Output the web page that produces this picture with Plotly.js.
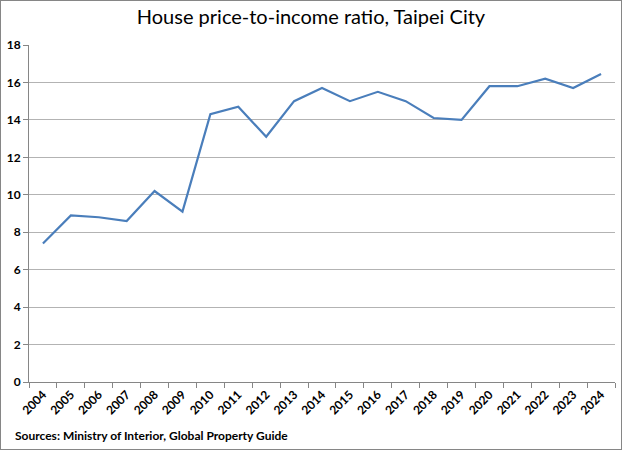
<!DOCTYPE html>
<html>
<head>
<meta charset="utf-8">
<script src="https://cdn.plot.ly/plotly-3.0.1.min.js"></script>
<style>
  body { margin: 0; background: #fff; }
  #chart { position: absolute; left: 0; top: 0; width: 620px; height: 448px; border: 1px solid #868686; }
</style>
</head>
<body>
<div id="chart"></div>
<script>
var years = ['2004', '2005', '2006', '2007', '2008', '2009', '2010', '2011', '2012', '2013', '2014',
             '2015', '2016', '2017', '2018', '2019', '2020', '2021', '2022', '2023', '2024'];
var ratio = [7.4, 8.9, 8.8, 8.6, 10.2, 9.1, 14.3, 14.7, 13.1, 15.0, 15.7,
             15.0, 15.5, 15.0, 14.1, 14.0, 15.8, 15.8, 16.2, 15.7, 16.45];
var yTicks = [0, 2, 4, 6, 8, 10, 12, 14, 16, 18];

var trace = {
  x: years,
  y: ratio,
  type: 'scatter',
  mode: 'lines',
  line: { color: '#4a7ebb', width: 2.2 },
  hoverinfo: 'x+y'
};

var tickFont = { family: 'Lato, "Open Sans", sans-serif', size: 12, color: '#000', weight: 'bold' };

var layout = {
  width: 620,
  height: 448,
  margin: { l: 28, r: 6, t: 43.5, b: 67 },
  paper_bgcolor: '#fff',
  plot_bgcolor: '#fff',
  showlegend: false,
  title: {
    text: 'House price-to-income ratio, Taipei City',
    font: { family: 'Lato, "Open Sans", sans-serif', size: 20, color: '#000' },
    x: 0.5, xanchor: 'center',
    yref: 'container', y: 0.964, yanchor: 'middle'
  },
  xaxis: {
    type: 'category',
    range: [-0.5, 20.5],
    tickangle: -45,
    tickson: 'boundaries',
    ticks: 'outside',
    ticklen: 5,
    tickcolor: '#868686',
    showline: true,
    linecolor: '#868686',
    linewidth: 1,
    showgrid: false,
    tickfont: tickFont,
    fixedrange: true
  },
  yaxis: {
    range: [0, 18],
    tickvals: yTicks,
    ticks: 'outside',
    ticklen: 5,
    tickcolor: '#868686',
    showline: true,
    linecolor: '#868686',
    linewidth: 1,
    showgrid: true,
    gridcolor: '#b3b3b3',
    gridwidth: 1,
    zeroline: false,
    tickfont: tickFont,
    fixedrange: true
  },
  annotations: [{
    text: 'Sources: Ministry of Interior, Global Property Guide',
    xref: 'paper', yref: 'paper',
    x: -0.028, xanchor: 'left',
    y: -0.16, yanchor: 'middle',
    showarrow: false,
    font: tickFont
  }]
};

Plotly.newPlot('chart', [trace], layout, { displayModeBar: false, staticPlot: true });
</script>
</body>
</html>
